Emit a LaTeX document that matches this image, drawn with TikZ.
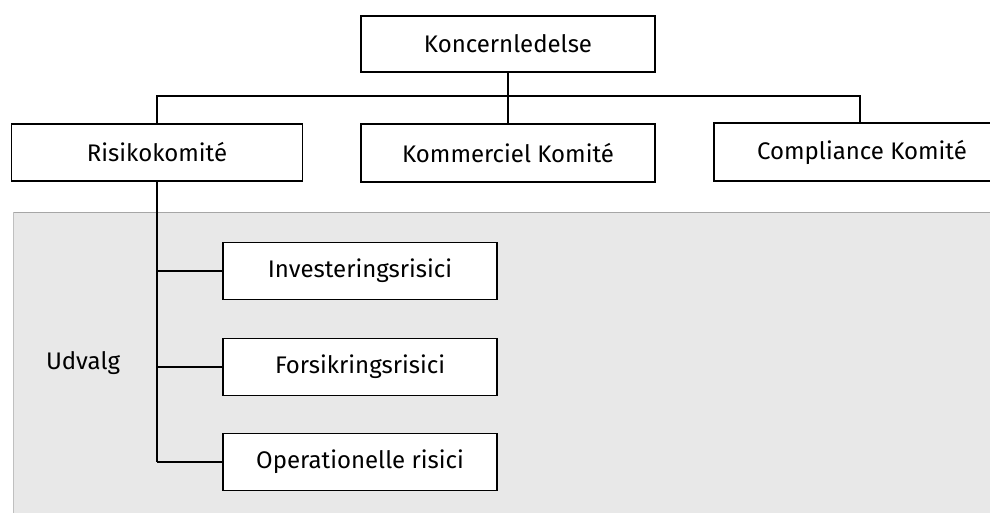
\documentclass[tikz,border=0pt]{standalone}
\usepackage{fontspec}
\setmainfont{Fira Sans}
\begin{document}
\begin{tikzpicture}[x=1pt,y=-1pt,
  box/.style={draw=black,line width=1.6pt,fill=white,rectangle,inner sep=0pt,font=\fontsize{24}{28}\selectfont},
  conn/.style={draw=black,line width=1.4pt},
  lbl/.style={font=\fontsize{24}{28}\selectfont,inner sep=0pt}]
\useasboundingbox (0,0) rectangle (990,513);
\fill[white] (0,0) rectangle (990,513);
% shaded committee area
\fill[black!9] (13,212) rectangle (990,513);
\draw[black!35,line width=0.6pt] (13,212) -- (990,212);
\draw[black!25,line width=0.5pt] (13,212) -- (13,513);

\node[box,minimum width=294pt,minimum height=56pt] (kl) at (508,44) {Koncernledelse};
\node[box,minimum width=291pt,minimum height=57pt] (rk) at (157,152.5) {Risikokomité};
\node[box,minimum width=294pt,minimum height=58pt] (kk) at (508,153) {Kommerciel Komité};
\node[box,minimum width=296pt,minimum height=58pt] (ck) at (862,152) {Compliance Komité};

\node[box,minimum width=274pt,minimum height=57pt] (ir) at (360,271) {Investeringsrisici};
\node[box,minimum width=274pt,minimum height=57pt] (fr) at (360,367) {Forsikringsrisici};
\node[box,minimum width=274pt,minimum height=57pt] (or) at (360,462) {Operationelle risici};

\node[lbl] (ud) at (83,363) {Udvalg};

\coordinate (hl) at (157,96);
\coordinate (hr) at (860,96);
\coordinate (tb) at (157,462);

\draw[conn] (kl.south) -- (kk.north);
\draw[conn] (rk.north -| hl) -- (hl) -- (hr) -- (hr |- ck.north);
\draw[conn] (rk.south) -- (tb);
\draw[conn] (ir.west -| tb) -- (ir.west);
\draw[conn] (fr.west -| tb) -- (fr.west);
\draw[conn] (tb) -- (or.west);
\end{tikzpicture}
\end{document}
